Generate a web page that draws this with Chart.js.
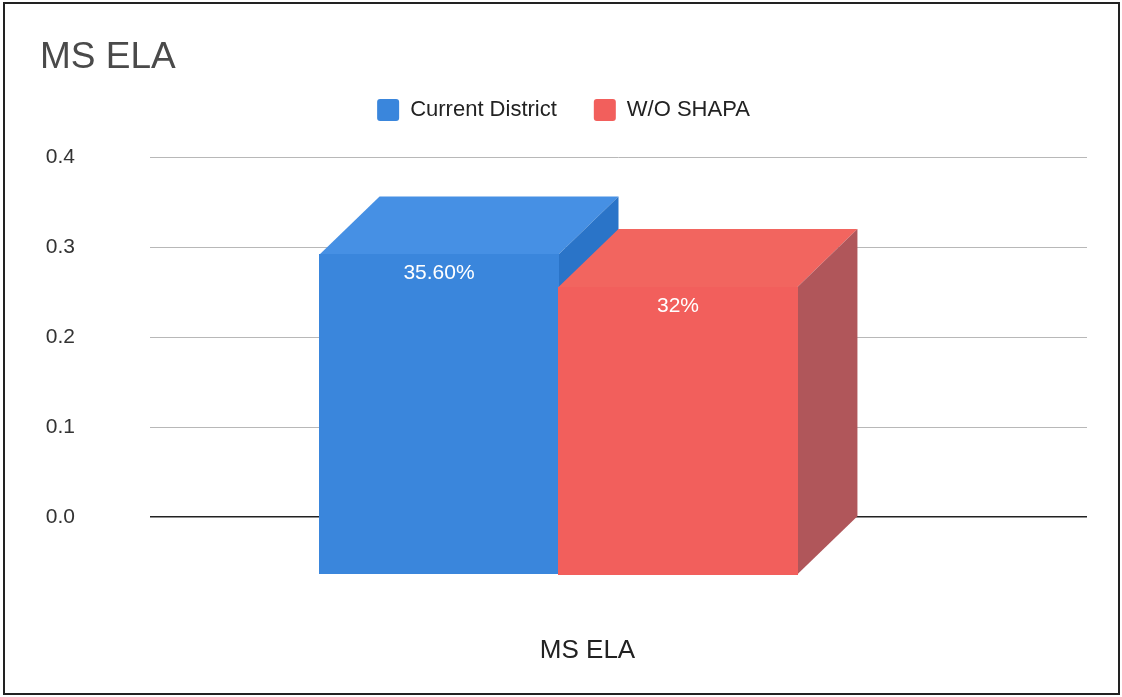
<!DOCTYPE html>
<html><head><meta charset="utf-8">
<script src="https://cdn.jsdelivr.net/npm/chart.js@4/dist/chart.umd.min.js"></script>
<style>html,body{margin:0;padding:0;background:#fff}#wrap{width:1122px;height:697px;position:relative}</style>
</head><body><div id="wrap"><canvas id="c" width="1122" height="697"></canvas></div>
<script>
const chartTitle = 'MS ELA';
const categories = ['MS ELA'];
const seriesNames = ['Current District', 'W/O SHAPA'];
const currentDistrict = [0.356];
const withoutShapa = [0.32];
const currentDistrictLabels = ['35.60%'];
const withoutShapaLabels = ['32%'];
const yMin = 0, yMax = 0.4, yStep = 0.1;

const legendColors = ['#3a86dc', '#f25f5c'];
const faceColors = [
  {front: '#3a86dc', top: '#4690e4', side: '#2a74c8'},
  {front: '#f25f5c', top: '#f2655f', side: '#b0565a'}
];
const DEPTH_X = 60, DEPTH_Y = 58;
const valueLabelSets = [currentDistrictLabels, withoutShapaLabels];

Chart.defaults.font.family = "'Liberation Sans', Arial, sans-serif";

function poly(ctx, pts, color) {
  ctx.beginPath();
  ctx.moveTo(pts[0][0], pts[0][1]);
  for (let i = 1; i < pts.length; i++) ctx.lineTo(pts[i][0], pts[i][1]);
  ctx.closePath();
  ctx.fillStyle = color;
  ctx.fill();
}

const framePlugin = {
  id: 'frame',
  beforeDraw(chart) {
    const ctx = chart.ctx;
    ctx.save();
    ctx.fillStyle = '#fff';
    ctx.fillRect(0, 0, chart.width, chart.height);
    ctx.restore();
  },
  afterDraw(chart) {
    const ctx = chart.ctx;
    ctx.save();
    ctx.strokeStyle = '#222';
    ctx.lineWidth = 2;
    ctx.strokeRect(4, 3, chart.width - 7, chart.height - 6);
    ctx.restore();
  }
};

const legendGap = {
  id: 'legendGap',
  beforeLayout(chart) {
    const lg = chart.legend;
    if (lg && !lg._gapPatched) {
      const orig = lg.fit.bind(lg);
      lg.fit = function () { orig(); this.height += 26; };
      lg._gapPatched = true;
    }
  }
};

const bar3d = {
  id: 'bar3d',
  beforeDatasetDraw() { return false; },
  afterDatasetsDraw(chart) {
    const ctx = chart.ctx;
    const dx = DEPTH_X, dy = DEPTH_Y;
    ctx.save();
    chart.data.datasets.forEach((ds, di) => {
      const meta = chart.getDatasetMeta(di);
      if (meta.hidden) return;
      meta.data.forEach((bar) => {
        const {x, y, base, width} = bar.getProps(['x', 'y', 'base', 'width'], true);
        const L = x - width / 2, R = x + width / 2;
        const c = faceColors[di];
        poly(ctx, [[L, y], [R, y], [R - dx, y + dy], [L - dx, y + dy]], c.top);
        poly(ctx, [[R, y], [R, base], [R - dx, base + dy], [R - dx, y + dy]], c.side);
        const fl = Math.floor(L - dx), fr = Math.ceil(R - dx);
        ctx.fillStyle = c.front;
        ctx.fillRect(fl, Math.floor(y + dy), fr - fl, Math.ceil(base - y));
      });
    });
    ctx.font = "21px 'Liberation Sans', Arial, sans-serif";
    ctx.fillStyle = '#ffffff';
    ctx.textAlign = 'center';
    ctx.textBaseline = 'middle';
    chart.data.datasets.forEach((ds, di) => {
      const meta = chart.getDatasetMeta(di);
      meta.data.forEach((bar, i) => {
        const {x, y} = bar.getProps(['x', 'y'], true);
        ctx.fillText(valueLabelSets[di][i], x - dx, y + dy + 19);
      });
    });
    ctx.restore();
  }
};

new Chart(document.getElementById('c'), {
  type: 'bar',
  data: {
    labels: categories,
    datasets: [
      {label: seriesNames[0], data: currentDistrict, backgroundColor: legendColors[0]},
      {label: seriesNames[1], data: withoutShapa, backgroundColor: legendColors[1]}
    ]
  },
  options: {
    responsive: false,
    animation: false,
    devicePixelRatio: 1,
    categoryPercentage: 0.51,
    barPercentage: 1.0,
    layout: {padding: {left: 40, right: 35, top: 0, bottom: 0}},
    plugins: {
      tooltip: {enabled: false},
      title: {
        display: true,
        text: chartTitle,
        align: 'start',
        color: '#4a4a4a',
        font: {size: 37, weight: 'normal', lineHeight: 1.0},
        padding: {top: 39, bottom: -14}
      },
      legend: {
        display: true,
        position: 'top',
        labels: {
          color: '#222',
          font: {size: 22},
          boxWidth: 22,
          boxHeight: 22,
          padding: 37,
          useBorderRadius: true,
          borderRadius: 3
        }
      }
    },
    scales: {
      x: {
        grid: {display: false, drawTicks: false},
        border: {display: false},
        ticks: {color: '#222', font: {size: 26}, padding: 118, labelOffset: -31},
        afterFit(scale) { scale.height = 180; }
      },
      y: {
        min: yMin,
        max: yMax,
        border: {display: false},
        grid: {
          drawTicks: false,
          color: (c) => c.tick && c.tick.value === 0 ? '#222' : '#b8b8b8',
          lineWidth: (c) => c.tick && c.tick.value === 0 ? 1.6 : 1
        },
        ticks: {
          stepSize: yStep,
          color: '#333',
          font: {size: 21},
          padding: 75,
          callback: (v) => Number(v).toFixed(1)
        },
        afterFit(scale) { scale.width = 110; }
      }
    }
  },
  plugins: [framePlugin, legendGap, bar3d]
});
</script></body></html>
